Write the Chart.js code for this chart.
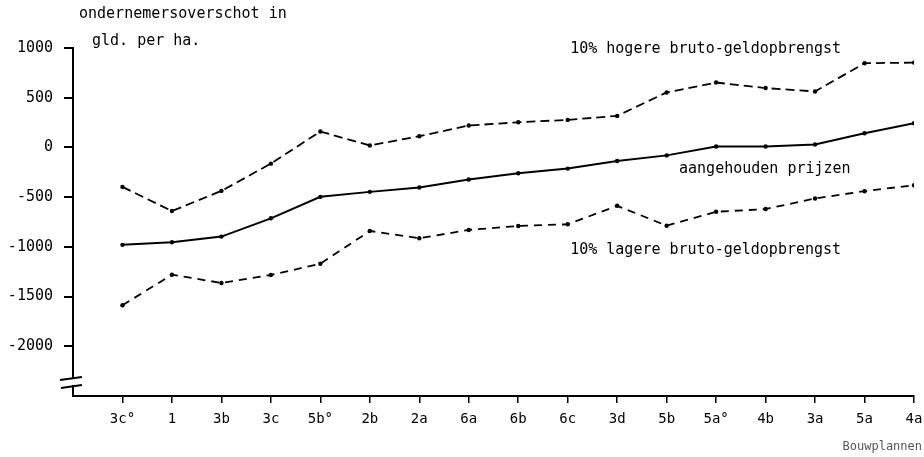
<!DOCTYPE html>
<html><head><meta charset="utf-8">
<script src="https://cdn.jsdelivr.net/npm/chart.js@4/dist/chart.umd.min.js"></script>
<style>html,body{margin:0;padding:0;background:#fff}#wrap{width:924px;height:457px}</style>
</head><body><div id="wrap"><canvas id="c" width="924" height="457"></canvas></div>
<script>
const categories = ['3c°','1','3b','3c','5b°','2b','2a','6a','6b','6c','3d','5b','5a°','4b','3a','5a','4a'];
const hogere = [-397,-640,-437,-163,160,20,113,220,253,277,317,553,653,597,563,847,853];
const aangehouden = [-980,-953,-897,-713,-497,-447,-403,-323,-260,-213,-137,-80,10,10,30,143,243];
const lagere = [-1587,-1280,-1363,-1283,-1170,-840,-913,-830,-790,-773,-587,-787,-647,-620,-513,-440,-380];
const yTicks = [1000,500,0,-500,-1000,-1500,-2000];
const yTitle = ['ondernemersoverschot in','gld. per ha.'];
const xTitle = 'Bouwplannen';
const notes = [
  {text:'10% hogere bruto-geldopbrengst', x:9.05, y:985},
  {text:'aangehouden prijzen', x:11.25, y:-220},
  {text:'10% lagere bruto-geldopbrengst', x:9.05, y:-1030}
];
const FONT = '"DejaVu Sans Mono", "Liberation Mono", monospace';

function pts(arr){ return arr.map((v,i)=>({x:i,y:v})); }
const ds = (label, arr, dash) => ({
  label, data: pts(arr), borderColor:'#000', backgroundColor:'#000',
  borderWidth: dash ? 1.8 : 2, borderDash: dash || [], pointRadius: 2.2,
  pointBackgroundColor:'#000', pointBorderWidth:0, tension:0, fill:false
});

const deco = {
  id:'deco',
  afterDraw(chart){
    const {ctx, chartArea:a, scales:{x,y}} = chart;
    ctx.save();
    ctx.fillStyle='#000';
    ctx.font = '15px ' + FONT;
    ctx.textBaseline='middle';
    ctx.textAlign='left';
    ctx.fillText(yTitle[0], a.left+6, 14);
    ctx.fillText(yTitle[1], a.left+19, 41);
    notes.forEach(n=>{
      ctx.fillText(n.text, x.getPixelForValue(n.x), y.getPixelForValue(n.y));
    });
    ctx.fillStyle='#555';
    ctx.font = '12px ' + FONT;
    ctx.textAlign='right';
    ctx.fillText(xTitle, 922, 447);
    // axis break
    const yb = a.bottom;
    ctx.fillStyle='#fff';
    ctx.fillRect(a.left-3, yb-17, 6, 6);
    ctx.strokeStyle='#000'; ctx.lineWidth=2;
    ctx.beginPath();
    ctx.moveTo(a.left-13, yb-16); ctx.lineTo(a.left+9, yb-19);
    ctx.moveTo(a.left-12, yb-8); ctx.lineTo(a.left+9, yb-11);
    ctx.stroke();
    ctx.restore();
  }
};

new Chart(document.getElementById('c'), {
  type:'line',
  data:{ datasets:[ ds('10% hogere bruto-geldopbrengst', hogere, [9,5]), ds('aangehouden prijzen', aangehouden, null), ds('10% lagere bruto-geldopbrengst', lagere, [8,6]) ]},
  options:{
    responsive:false, animation:false, devicePixelRatio:1,
    layout:{padding:{left:0,right:10,top:48,bottom:0}},
    plugins:{legend:{display:false}, tooltip:{enabled:false}},
    scales:{
      x:{ type:'linear', min:-1, max:16,
        afterBuildTicks(s){ s.ticks = categories.map((_,i)=>({value:i})); },
        afterFit(s){ s.height = 61; s.paddingRight = 0; s.paddingLeft = 0; },
        grid:{drawOnChartArea:false, drawTicks:true, tickLength:7, color:'#000', lineWidth:1.5},
        border:{display:true, color:'#000', width:2},
        ticks:{ autoSkip:false, maxRotation:0, padding:8, color:'#000', font:{family:FONT, size:14},
          callback:(v)=>categories[v] ?? '' }
      },
      y:{ type:'linear', min:-2500, max:1000,
        afterBuildTicks(s){ s.ticks = yTicks.map(v=>({value:v})); },
        afterFit(s){ s.width = 73; },
        grid:{drawOnChartArea:false, drawTicks:true, tickLength:9, color:'#000', lineWidth:2},
        border:{display:true, color:'#000', width:2},
        ticks:{ padding:11, color:'#000', font:{family:FONT, size:15}, callback:(v)=>String(v) }
      }
    }
  },
  plugins:[deco]
});
</script></body></html>
